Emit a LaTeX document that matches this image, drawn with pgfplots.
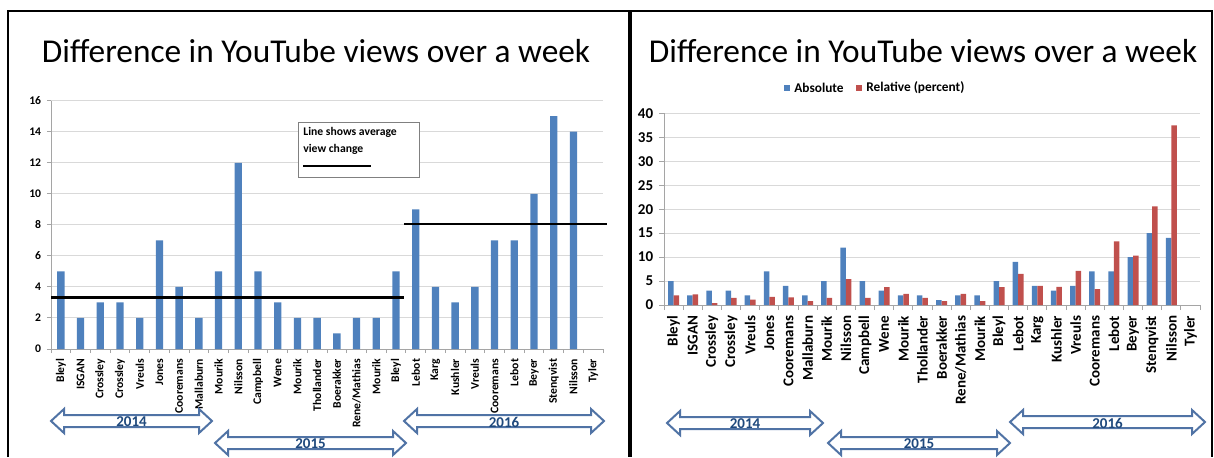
\documentclass[border=0pt]{standalone}
\usepackage{pgfplots}
\pgfplotsset{compat=1.18}
\usepackage{fontspec}
\setmainfont{Carlito}
\definecolor{xlblue}{RGB}{79,129,189}
\definecolor{xlred}{RGB}{192,80,77}
\definecolor{gridc}{RGB}{217,217,217}
\definecolor{axc}{RGB}{165,165,165}
\definecolor{arrc}{RGB}{80,115,165}
\definecolor{arrtxt}{RGB}{31,73,125}

\pgfplotsset{
  commonax/.style={
    scale only axis, ybar,
    axis x line*=bottom, axis y line*=left,
    axis line style={axc, line width=0.6pt},
    ymajorgrids, grid style={gridc, line width=0.6pt},
    xmin=-0.5, xmax=27.5, ymin=0, enlargelimits=false,
    tick align=outside,
    xtick={0,...,27},
    xticklabels={Bleyl,ISGAN,Crossley,Crossley,Vreuls,Jones,Cooremans,Mallaburn,Mourik,Nilsson,Campbell,Wene,Mourik,Thollander,Boerakker,Rene/Mathias,Mourik,Bleyl,Lebot,Karg,Kushler,Vreuls,Cooremans,Lebot,Beyer,Stenqvist,Nilsson,Tyler},
    major x tick style={draw=none},
    minor xtick={-0.5,0.5,...,27.5},
    tick style={axc, line width=0.6pt},
    x tick label style={rotate=90, anchor=east},
    clip=false,
    /pgf/number format/assume math mode=true,
  }
}

\newcommand{\dblarrow}[4]{%
  \draw[arrc, line width=1.2pt, fill=white, line join=miter]
    (#1,#3) -- (#1+13,#3-12) -- (#1+13,#3-6) -- (#2-13,#3-6) -- (#2-13,#3-12) -- (#2,#3)
    -- (#2-13,#3+12) -- (#2-13,#3+6) -- (#1+13,#3+6) -- (#1+13,#3+12) -- cycle;
  \node[text=arrtxt, font=\fontsize{9}{10}\selectfont\bfseries, inner sep=0pt] at ({(#1+#2)/2},#3+1) {#4};
}

\begin{document}
\begin{tikzpicture}
\useasboundingbox (0,0) rectangle (728.4pt,-274.2pt);

\begin{axis}[commonax,
  at={(30.6pt,-209.4pt)}, anchor=south west,
  width=331.2pt, height=149pt,
  ymax=16, ytick={0,2,...,16},
  bar width=4.4pt,
  major tick length=2.4pt, minor tick length=2.4pt,
  tick label style={font=\fontsize{7}{8}\selectfont\bfseries},
]
\addplot[fill=xlblue, draw=none] coordinates {
(0,5) (1,2) (2,3) (3,3) (4,2) (5,7) (6,4) (7,2) (8,5) (9,12) (10,5) (11,3) (12,2) (13,2)
(14,1) (15,2) (16,2) (17,5) (18,9) (19,4) (20,3) (21,4) (22,7) (23,7) (24,10) (25,15) (26,14)};
\addplot[sharp plot, black, line width=1.5pt, forget plot, bar shift=0pt] coordinates {(-0.5,3.33) (17.4,3.33)};
\addplot[sharp plot, black, line width=1.5pt, forget plot, bar shift=0pt] coordinates {(17.4,8.07) (27.7,8.07)};
\end{axis}

\begin{axis}[commonax,
  at={(398.4pt,-183pt)}, anchor=south west,
  width=321.6pt, height=115pt,
  ymax=40, ytick={0,5,...,40},
  bar width=3.3pt, ybar=0pt,
  major tick length=3pt, minor tick length=3pt,
  tick label style={font=\fontsize{9}{10}\selectfont\bfseries},
]
\addplot[fill=xlblue, draw=none] coordinates {
(0,5) (1,2) (2,3) (3,3) (4,2) (5,7) (6,4) (7,2) (8,5) (9,12) (10,5) (11,3) (12,2) (13,2)
(14,1) (15,2) (16,2) (17,5) (18,9) (19,4) (20,3) (21,4) (22,7) (23,7) (24,10) (25,15) (26,14)};
\addplot[fill=xlred, draw=none] coordinates {
(0,2.0) (1,2.2) (2,0.4) (3,1.5) (4,1.1) (5,1.7) (6,1.6) (7,0.8) (8,1.5) (9,5.4) (10,1.5) (11,3.75) (12,2.3) (13,1.5)
(14,0.8) (15,2.3) (16,0.8) (17,3.75) (18,6.5) (19,4.0) (20,3.8) (21,7.1) (22,3.3) (23,13.3) (24,10.3) (25,20.6) (26,37.5)};
\end{axis}

\begin{scope}[x=0.6pt,y=-0.6pt]
  % frame
  \draw[line width=1.6pt] (8,457) -- (8,11) -- (1212,11) -- (1212,457);
  \draw[line width=2.6pt] (630,11) -- (630,457);
  % titles
  \node[font=\fontsize{20}{24}\selectfont] at (316,51) {Difference in YouTube views over a week};
  \node[font=\fontsize{20}{24}\selectfont] at (923,51) {Difference in YouTube views over a week};
  % legend left (text box)
  \draw[gray, line width=0.6pt, fill=white] (298,122) rectangle (419,177);
  \node[anchor=north west, align=left, inner sep=0pt, font=\fontsize{7}{10}\selectfont\bfseries] at (303,127) {Line shows average\\view change};
  \draw[black, line width=1.5pt] (303,166) -- (371,166);
  % legend right
  \fill[xlblue] (784,85) rectangle (790,91);
  \node[anchor=west, inner sep=0pt, font=\fontsize{8}{9}\selectfont\bfseries] at (794,88) {Absolute};
  \fill[xlred] (856,85) rectangle (862,91);
  \node[anchor=west, inner sep=0pt, font=\fontsize{8}{9}\selectfont\bfseries] at (866,88) {Relative (percent)};
  % arrows
  \dblarrow{51}{212}{421}{2014}
  \dblarrow{215}{406}{443}{2015}
  \dblarrow{404}{604}{421}{2016}
  \dblarrow{667}{823}{423}{2014}
  \dblarrow{828}{1010}{443}{2015}
  \dblarrow{1010}{1205}{422}{2016}
\end{scope}
\end{tikzpicture}
\end{document}
